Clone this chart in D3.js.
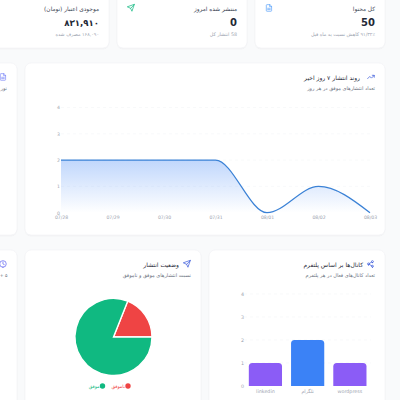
<!DOCTYPE html>
<html><head><meta charset="utf-8">
<style>html,body{margin:0;padding:0;background:#f9fafb;overflow:hidden}svg{display:block}text{font-family:"DejaVu Sans","Noto Sans",sans-serif}</style>
<script src="https://cdn.jsdelivr.net/npm/d3@7"></script></head><body>
<script>
const days=["07/28","07/29","07/30","07/31","08/01","08/02","08/03"];
const dayValues=[2,2,2,2,0,1,0];
const yTicks=[0,1,2,3,4];
const platforms=["linkedin","تلگرام","wordpress"];
const platformValues=[1,2,1];
const platformColors=["#8b5cf6","#3b82f6","#8b5cf6"];
const statusNames=["ناموفق","موفق"];
const statusValues=[19,81];
const statusColors=["#ef4444","#10b981"];

const svg=d3.select("body").append("svg").attr("width",400).attr("height",400);
const defs=svg.append("defs");
const grad=defs.append("linearGradient").attr("id","ag").attr("x1",0).attr("x2",0).attr("y1",0).attr("y2",1);
grad.append("stop").attr("offset","0%").attr("stop-color","#3b82f6").attr("stop-opacity",.32);
grad.append("stop").attr("offset","100%").attr("stop-color","#3b82f6").attr("stop-opacity",0);
const sh=defs.append("filter").attr("id","sh").attr("x","-5%").attr("y","-5%").attr("width","110%").attr("height","110%");
sh.append("feDropShadow").attr("dx",0).attr("dy",.6).attr("stdDeviation",.7).attr("flood-color","#000").attr("flood-opacity",.07);

const card=(x,y,w,h)=>svg.append("rect").attr("x",x).attr("y",y).attr("width",w).attr("height",h).attr("rx",6).attr("fill","#fff").attr("stroke","#f1f2f5").attr("stroke-width",.6).attr("filter","url(#sh)");
card(-60,-30,169,78);card(117,-30,130,78);card(255,-30,130,78);
card(-60,63,77,172);card(25,63,360,172);
card(-60,250,77,180);card(25,250,176,180);card(209,250,176,180);

const txt=(x,y,s,size,fill,weight)=>svg.append("text").attr("x",x).attr("y",y).attr("direction","rtl").attr("text-anchor","start").attr("font-size",size).attr("fill",fill).attr("font-weight",weight||400).text(s);
const ic=(x,y,d,c)=>svg.append("g").attr("transform",`translate(${x},${y}) scale(.33)`).append("path").attr("d",d).attr("fill","none").attr("stroke",c).attr("stroke-width",2.2).attr("stroke-linecap","round").attr("stroke-linejoin","round");
const FILE="M14 2H6a2 2 0 0 0-2 2v16a2 2 0 0 0 2 2h12a2 2 0 0 0 2-2V8zM14 2v6h6M8 13h8M8 17h8";
const SEND="M22 2 11 13M22 2l-7 20-4-9-9-4z";
const TREND="M22 7l-8.5 8.5-5-5L2 17M16 7h6v6";
const SHARE="M18 8a3 3 0 1 0 0-6 3 3 0 0 0 0 6zM6 15a3 3 0 1 0 0-6 3 3 0 0 0 0 6zM18 22a3 3 0 1 0 0-6 3 3 0 0 0 0 6zM8.6 13.5l6.8 4M15.4 6.5l-6.8 4";
const CLOCK="M12 22a10 10 0 1 0 0-20 10 10 0 0 0 0 20zM12 6v6l4 2";

txt(99,10.5,"موجودی اعتبار (تومان)",5.8,"#374151",500);
txt(99,26,"۸۳۱,۹۱۰",8.6,"#1f2937",700);
txt(99,36,"۱۶۸,۰۹۰ مصرف شده",4.8,"#9ca3af");
txt(237,10.5,"منتشر شده امروز",5.8,"#374151",500);
svg.append("text").attr("x",237).attr("y",26).attr("text-anchor","end").attr("font-size",10).attr("font-weight",700).attr("fill","#1f2937").text("0");
txt(237,36,"58 انتشار کل",4.8,"#9ca3af");
txt(375,10.5,"کل محتوا",5.8,"#374151",500);
svg.append("text").attr("x",375).attr("y",26).attr("text-anchor","end").attr("font-size",10).attr("font-weight",700).attr("fill","#1f2937").text("50");
txt(375,36,"۹۱/۳۲٪ کاهش نسبت به ماه قبل",4.8,"#9ca3af");
ic(127,4,SEND,"#10b981");ic(265,4,FILE,"#60a5fa");

txt(360,79.5,"روند انتشار ۷ روز اخیر",6,"#1f2937",500);
txt(375,90,"تعداد انتشارهای موفق در هر روز",5,"#6b7280");
ic(367,73,TREND,"#3b5bdb");
ic(-1,73,FILE,"#818cf8");
txt(7,90,"نور",5,"#6b7280");

const x=d3.scalePoint().domain(days).range([61,370]);
const y=d3.scaleLinear().domain([0,4]).range([212.7,107.5]);
const gridG=svg.append("g").attr("stroke","#f4f5f7").attr("stroke-width",.6).attr("stroke-dasharray","3 3");
gridG.selectAll("line").data(yTicks.slice(1)).join("line").attr("x1",61).attr("x2",370).attr("y1",d=>y(d)).attr("y2",d=>y(d));
const data=days.map((d,i)=>({d,v:dayValues[i]}));
svg.append("path").datum(data).attr("fill","url(#ag)").attr("d",d3.area().x(d=>x(d.d)).y0(y(0)).y1(d=>y(d.v)).curve(d3.curveMonotoneX));
svg.append("path").datum(data).attr("fill","none").attr("stroke","#3b82d6").attr("stroke-width",1.2).attr("d",d3.line().x(d=>x(d.d)).y(d=>y(d.v)).curve(d3.curveMonotoneX));
const ax1=svg.append("g").attr("transform","translate(0,212.7)").call(d3.axisBottom(x).tickSize(0).tickPadding(3));
const ay1=svg.append("g").attr("transform","translate(61,0)").call(d3.axisLeft(y).tickValues(yTicks).tickFormat(d3.format("d")).tickSize(0).tickPadding(1));
[ax1,ay1].forEach(a=>{a.select(".domain").remove();a.selectAll("text").attr("font-size",4.6).attr("fill","#9ca3af").attr("font-family","'Liberation Sans',sans-serif");});

txt(179,266.5,"وضعیت انتشار",6,"#1f2937",500);
txt(191,277,"نسبت انتشارهای موفق و ناموفق",5,"#6b7280");
ic(183,260,SEND,"#3b5bdb");
ic(-1,260,CLOCK,"#6366f1");
txt(7.5,277,"۵ +",4.6,"#6b7280");
const pie=d3.pie().sort(null).startAngle(Math.PI/2).endAngle(Math.PI/2-2*Math.PI).value(d=>d);
const arc=d3.arc().innerRadius(0).outerRadius(38.5);
svg.append("g").attr("transform","translate(113.5,337)").selectAll("path").data(pie(statusValues)).join("path").attr("d",arc).attr("fill",(d,i)=>statusColors[i]).attr("stroke","#fff").attr("stroke-width",1.4);
statusNames.forEach((n,i)=>{
  const cx=[128,102.5][i];
  svg.append("circle").attr("cx",cx).attr("cy",386).attr("r",2.7).attr("fill",statusColors[i]);
  svg.append("text").attr("x",cx-3).attr("y",388).attr("direction","rtl").attr("text-anchor","start").attr("font-size",4.6).attr("fill",statusColors[i]).text(n);
});

txt(363,266.5,"کانال‌ها بر اساس پلتفرم",6,"#1f2937",500);
txt(375,277,"تعداد کانال‌های فعال در هر پلتفرم",5,"#6b7280");
ic(366.5,260,SHARE,"#3b5bdb");
const bx=d3.scaleBand().domain(platforms).range([244.3,371]).paddingInner(.214).paddingOuter(.107);
const by=d3.scaleLinear().domain([0,4]).range([386,294]);
const g2=svg.append("g").attr("stroke","#f4f5f7").attr("stroke-width",.6).attr("stroke-dasharray","3 3");
g2.selectAll("line").data(yTicks.slice(1)).join("line").attr("x1",244).attr("x2",371).attr("y1",d=>by(d)).attr("y2",d=>by(d));
const r=3.5;
svg.selectAll(".bar").data(platforms).join("path").attr("class","bar").attr("fill",(d,i)=>platformColors[i])
 .attr("d",(d,i)=>{const p=d3.path(),a=bx(d),b=a+bx.bandwidth(),t=by(platformValues[i]),z=by(0);
  p.moveTo(a,z);p.lineTo(a,t+r);p.quadraticCurveTo(a,t,a+r,t);p.lineTo(b-r,t);p.quadraticCurveTo(b,t,b,t+r);p.lineTo(b,z);p.closePath();return p;});
const ax2=svg.append("g").attr("transform","translate(0,386)").call(d3.axisBottom(bx).tickSize(0).tickPadding(3.5));
const ay2=svg.append("g").attr("transform","translate(245,0)").call(d3.axisLeft(by).tickValues(yTicks).tickFormat(d3.format("d")).tickSize(0).tickPadding(1));
[ax2,ay2].forEach(a=>{a.select(".domain").remove();a.selectAll("text").attr("font-size",4.8).attr("fill","#9ca3af");});
</script></body></html>
